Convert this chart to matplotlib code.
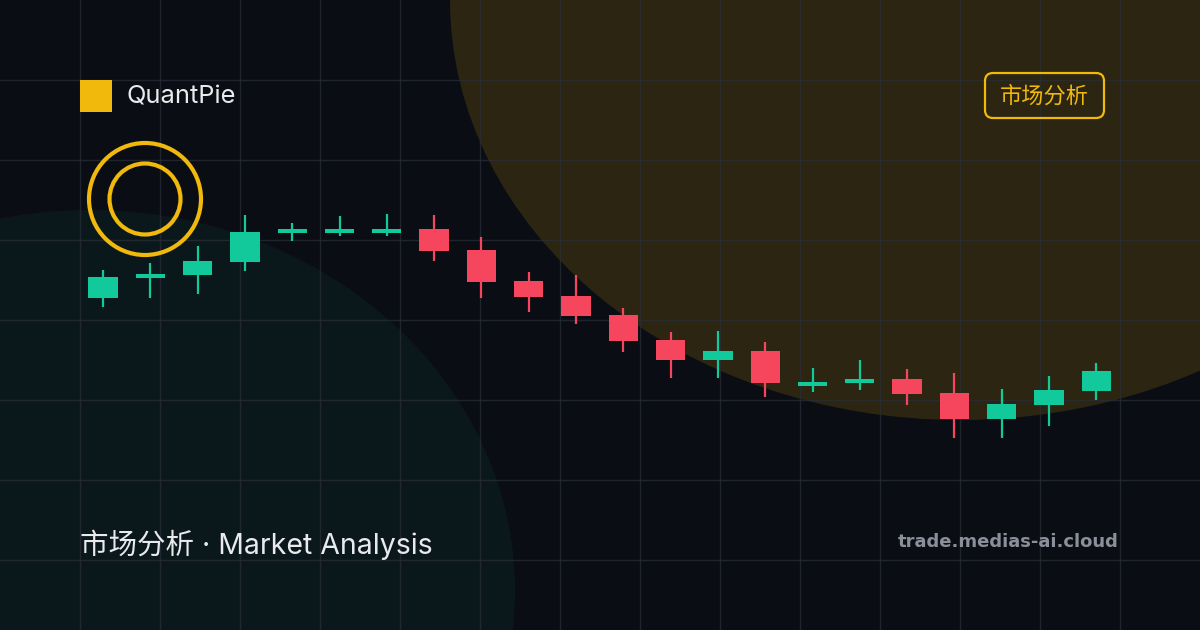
import numpy as np
import matplotlib
matplotlib.use("Agg")
import matplotlib.pyplot as plt
from matplotlib.patches import Ellipse, Circle, Rectangle, FancyBboxPatch

# candle data (arbitrary price units)
opens  = [202, 222, 225, 238, 267, 267, 267, 271, 250, 219, 204, 185, 160, 140, 149, 114, 117, 121, 107, 81, 95, 109]
highs  = [230, 237, 254, 285, 277, 284, 286, 285, 263, 228, 225, 192, 168, 169, 158, 132, 140, 131, 127, 111, 124, 137]
lows   = [193, 202, 206, 229, 259, 264, 264, 239, 202, 188, 176, 148, 122, 122, 103, 108, 110, 95, 62, 62, 74, 100]
closes = [223, 226, 239, 268, 271, 271, 271, 249, 218, 203, 184, 159, 140, 149, 117, 118, 121, 106, 81, 96, 110, 129]

brand = "QuantPie"
badge = "市场分析"
title = "市场分析 · Market Analysis"
site = "trade.medias-ai.cloud"

BG = "#0b0d14"
UP = "#12c99b"
DOWN = "#f6465d"
GOLD = "#f0b90b"

W, H = 1200, 630
fig = plt.figure(figsize=(12, 6.3), dpi=100, facecolor=BG)

# background layer in pixel coords
bg = fig.add_axes([0, 0, 1, 1])
bg.set_xlim(0, W)
bg.set_ylim(H, 0)
bg.axis("off")
bg.set_facecolor(BG)

bg.add_patch(Ellipse((960, 0), 1020, 840, color=GOLD, alpha=0.14, lw=0, zorder=1))
bg.add_patch(Ellipse((90, 590), 850, 760, color=UP, alpha=0.06, lw=0, zorder=1))

for gx in range(80, W, 80):
    bg.axvline(gx, color="#2a2e38", alpha=0.7, lw=1, zorder=2)
for gy in range(80, H, 80):
    bg.axhline(gy, color="#2a2e38", alpha=0.7, lw=1, zorder=2)

# logo
bg.add_patch(Rectangle((80, 80), 32, 32, color=GOLD, lw=0, zorder=5))
bg.text(126, 97, brand, color="#e8eaed", fontsize=18.3, family="Inter",
        va="center", ha="left", zorder=5)

# rings
bg.add_patch(Circle((145, 199), 56, fill=False, ec=GOLD, lw=3, zorder=5))
bg.add_patch(Circle((145, 199), 35.5, fill=False, ec=GOLD, lw=3, zorder=5))

# badge
bg.add_patch(FancyBboxPatch((985, 73), 119, 45, boxstyle="round,pad=0,rounding_size=8",
                            fc="none", ec=GOLD, lw=1.6, zorder=5))
bg.text(1044.5, 96, badge, color=GOLD, fontsize=16, family=["Noto Sans CJK SC", "DejaVu Sans"],
        va="center", ha="center", zorder=5)

# bottom texts
bg.text(80, 545, title, color="#e8eaed", fontsize=20.5,
        family=["Inter", "Noto Sans CJK SC", "DejaVu Sans"], va="center", ha="left", zorder=5)
bg.text(1119, 542, site, color="#8a8f99", fontsize=13, family="DejaVu Sans",
        weight="bold", va="center", ha="right", zorder=5)

# candles layer
ax = fig.add_axes([0, 0, 1, 1], facecolor="none")
step = 47.3
x0 = 103
ax.set_xlim(-x0 / step, (W - x0) / step)
ax.set_ylim(500 - H, 500)
ax.axis("off")

idx = np.arange(len(opens))
o = np.array(opens); c = np.array(closes)
colors = [UP if cc >= oo else DOWN for oo, cc in zip(opens, closes)]
ax.vlines(idx, lows, highs, colors=colors, lw=1.6, zorder=3)
bottoms = np.minimum(o, c)
heights = np.maximum(np.abs(c - o), 3.5)
ax.bar(idx, heights, bottom=bottoms - (heights - np.abs(c - o)) / 2, width=0.62,
       color=colors, lw=0, zorder=4)

fig.savefig("out.png", dpi=100, facecolor=BG)
